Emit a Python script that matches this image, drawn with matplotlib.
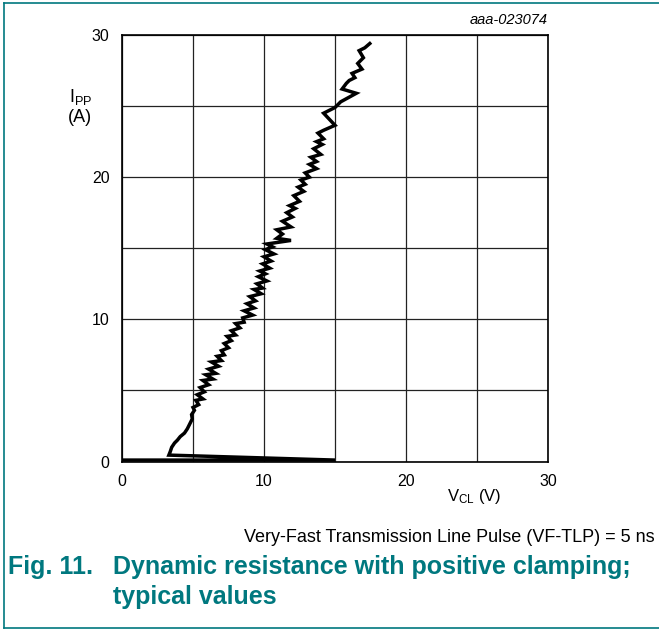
import matplotlib
matplotlib.use("Agg")
import matplotlib.pyplot as plt
from matplotlib.lines import Line2D

plt.rcParams['font.family'] = ['Liberation Sans', 'DejaVu Sans']

# clamping voltage (V) vs peak pulse current (A)
v_cl = [0.0, 15.0, 3.3, 3.4, 3.5, 3.7, 3.9, 4.1, 4.4, 4.6, 4.8, 4.95, 4.9, 5.1, 5.0,
        5.4, 5.2, 5.7, 5.3, 5.8, 5.5, 6.1, 5.7, 6.4, 5.9, 6.6, 6.1, 6.8, 6.3, 7.0,
        6.7, 7.2, 7.0, 7.5, 7.2, 7.7, 7.4, 8.0, 7.7, 8.3, 8.0, 8.6, 8.5, 9.2, 8.6,
        9.3, 8.8, 9.4, 9.0, 9.8, 9.3, 9.9, 9.5, 10.2, 9.6, 10.1, 9.7, 10.4, 9.9,
        10.5, 10.0, 10.7, 10.1, 10.6, 10.2, 11.9, 10.9, 11.3, 10.9, 11.9, 11.3,
        12.0, 11.6, 12.2, 11.8, 12.5, 12.1, 12.8, 12.4, 12.9, 12.6, 13.2, 12.9,
        13.7, 13.2, 13.7, 13.3, 14.0, 13.5, 14.1, 13.7, 14.2, 13.8, 14.2, 15.0,
        14.2, 15.0, 15.4, 16.5, 15.5, 15.8, 16.0, 16.4, 16.2, 16.9, 16.6, 17.0,
        16.7, 17.1, 17.45]
i_pp = [0.1, 0.1, 0.45, 0.7, 1.0, 1.3, 1.5, 1.75, 2.0, 2.3, 2.7, 3.0, 3.3, 3.6, 3.8,
        4.0, 4.3, 4.4, 4.7, 4.9, 5.2, 5.4, 5.7, 5.8, 6.1, 6.2, 6.5, 6.7, 7.0, 7.1,
        7.4, 7.5, 7.8, 8.0, 8.3, 8.5, 8.8, 8.9, 9.2, 9.4, 9.7, 9.8, 10.1, 10.3, 10.6,
        10.8, 11.1, 11.3, 11.6, 11.8, 12.1, 12.2, 12.5, 12.7, 13.0, 13.2, 13.4, 13.6,
        13.9, 14.1, 14.4, 14.6, 14.9, 15.1, 15.3, 15.55, 15.7, 16.0, 16.3, 16.5,
        16.9, 17.2, 17.5, 17.8, 18.0, 18.3, 18.7, 19.0, 19.3, 19.5, 19.8, 20.0,
        20.3, 20.6, 20.9, 21.1, 21.4, 21.6, 22.0, 22.3, 22.5, 22.7, 23.1, 23.3,
        23.65, 24.5, 24.9, 25.3, 25.9, 26.2, 26.6, 26.8, 27.0, 27.3, 27.6, 28.0,
        28.4, 28.9, 29.1, 29.4]

ticks = [0, 10, 20, 30]
teal = '#00787f'

fig = plt.figure(figsize=(6.59, 6.31), dpi=100)
ax = fig.add_axes([122 / 659, (631 - 461.5) / 631, 426 / 659, 426.5 / 631])

ax.plot(v_cl, i_pp, color='black', lw=2.5, solid_joinstyle='miter', zorder=3)

ax.set_xlim(0, 30)
ax.set_ylim(0, 30)
ax.set_xticks(range(0, 31, 5))
ax.set_yticks(range(0, 31, 5))
ax.set_xticklabels([str(t) if t in ticks else '' for t in range(0, 31, 5)])
ax.set_yticklabels([str(t) if t in ticks else '' for t in range(0, 31, 5)])
ax.tick_params(length=0, labelsize=11.5, pad=9)
ax.grid(True, color='#222222', lw=0.9)
for s in ax.spines.values():
    s.set_linewidth(1.2)

fig.text(81 / 659, 1 - 97 / 631, r'$\mathregular{I_{PP}}$', fontsize=13, ha='center', va='center')
fig.text(80 / 659, 1 - 118 / 631, '(A)', fontsize=13, ha='center', va='center')
fig.text(474 / 659, 1 - 497 / 631, r'$\mathregular{V_{CL}}$ (V)', fontsize=12, ha='center', va='center')
fig.text(548 / 659, 1 - 20 / 631, 'aaa-023074', fontsize=10.5, style='italic', ha='right', va='center')

fig.text(655 / 659, 1 - 537 / 631, 'Very-Fast Transmission Line Pulse (VF-TLP) = 5 ns',
         fontsize=13, ha='right', va='center')
fig.text(8 / 659, 1 - 567 / 631, 'Fig. 11.', fontsize=18, weight='bold', color=teal, va='center')
fig.text(113 / 659, 1 - 567 / 631, 'Dynamic resistance with positive clamping;', fontsize=18,
         weight='bold', color=teal, va='center')
fig.text(113 / 659, 1 - 597 / 631, 'typical values', fontsize=18, weight='bold', color=teal, va='center')

# page frame lines
fig.add_artist(Line2D([4 / 659, 1], [1 - 3 / 631, 1 - 3 / 631], color=teal, lw=1.2, transform=fig.transFigure))
fig.add_artist(Line2D([4 / 659, 4 / 659], [1 - 3 / 631, 1 - 628 / 631], color=teal, lw=1.2, transform=fig.transFigure))
fig.add_artist(Line2D([4 / 659, 1], [1 - 628 / 631, 1 - 628 / 631], color=teal, lw=1.2, transform=fig.transFigure))

fig.savefig('out.png', dpi=100)
